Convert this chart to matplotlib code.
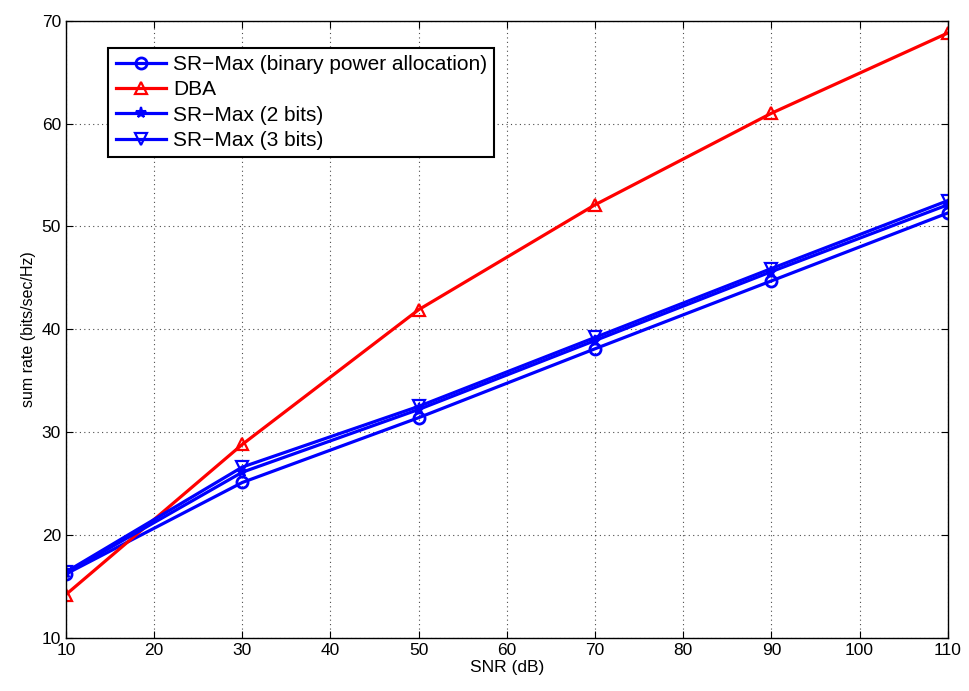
import numpy as np
import matplotlib
matplotlib.use('Agg')
import matplotlib.pyplot as plt

plt.rcParams['font.family'] = ['Liberation Sans', 'DejaVu Sans']

snr = [10, 30, 50, 70, 90, 110]
sr_binary = [16.2, 25.1, 31.4, 38.1, 44.7, 51.3]
dba = [14.2, 28.8, 41.9, 52.1, 61.0, 68.8]
sr_2bits = [16.3, 26.1, 32.2, 38.9, 45.6, 52.1]
sr_3bits = [16.4, 26.6, 32.5, 39.2, 45.9, 52.5]

fig = plt.figure(figsize=(9.69, 6.91), dpi=100)
ax = fig.add_axes([0.068, 0.077, 0.910, 0.893])

lw = 2.3
ax.plot(snr, sr_binary, 'o-', color='blue', lw=lw, ms=8, mfc='none', mew=2,
        label='SR\u2212Max (binary power allocation)')
ax.plot(snr, dba, '^-', color='red', lw=lw, ms=9, mfc='none', mew=1.6, label='DBA')
ax.plot(snr, sr_2bits, '*-', color='blue', lw=lw, ms=8, mew=1.5, label='SR\u2212Max (2 bits)')
ax.plot(snr, sr_3bits, 'v-', color='blue', lw=lw, ms=9, mfc='none', mew=1.6,
        label='SR\u2212Max (3 bits)')

ax.set_xlim(10, 110)
ax.set_ylim(10, 70)
ax.set_xticks(np.arange(10, 111, 10))
ax.set_yticks(np.arange(10, 71, 10))
ax.grid(True, color='black', linestyle=(0, (1, 3)), linewidth=0.8, alpha=0.7)
ax.tick_params(direction='in', labelsize=12.5, top=True, right=True, length=5)
for s in ax.spines.values():
    s.set_linewidth(1)

ax.set_xlabel('SNR (dB)', fontsize=12.5, labelpad=2)
ax.set_ylabel('sum rate (bits/sec/Hz)', fontsize=11.5, labelpad=4)

leg = ax.legend(loc='upper left', bbox_to_anchor=(0.048, 0.956), borderaxespad=0,
                fontsize=15, fancybox=False, edgecolor='black', framealpha=1,
                handlelength=2.4, borderpad=0.35, labelspacing=0.3, handletextpad=0.35)
leg.get_frame().set_linewidth(1.5)

fig.savefig('out.png', dpi=100)
